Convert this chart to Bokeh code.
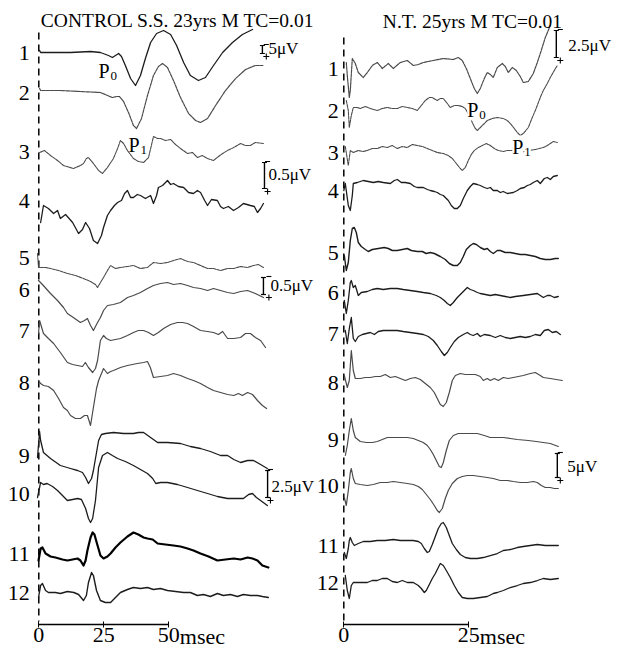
from bokeh.plotting import figure
from bokeh.models import (Range1d, LinearAxis, FixedTicker, Label, LabelSet,
                          ColumnDataSource)
from bokeh.layouts import row
from bokeh.embed import file_html
from bokeh.resources import INLINE
from bokeh.core.properties import value

SERIF = "Liberation Serif"

# ---------------- DATA: left panel (CONTROL S.S.), time in msec, amplitude (up +) ----------
L1_t = [0.3, 0.7, 4.5, 12.2, 19.9, 23.7, 26.8, 28.3, 29.5, 30.7, 31.8, 33.3, 35.3, 37.2, 39.1, 41.0, 43.0, 45.3, 48.0, 50.7, 53.0, 55.7, 58.3, 61.4, 64.1, 67.2, 70.7, 74.5, 78.3, 82.2]
L1_v = [2, 0, 0, 0, 1, 0, -3, -5, -3, -1, -4, -13, -26, -33, -23, -6, 10, 19, 22, 18, 7, -10, -23, -28, -25, -13, 0, 10, 18, 23]
L2_t = [0.3, 0.7, 8.3, 16.0, 23.7, 26.4, 28.3, 29.9, 31.0, 32.6, 34.5, 36.4, 37.6, 39.5, 41.8, 44.1, 46.0, 47.6, 49.5, 51.8, 54.5, 57.6, 60.3, 62.2, 64.9, 68.0, 71.8, 75.7, 79.5, 83.3, 86.4]
L2_v = [2, 0, 0, -1, -2, -5, -7, -6, -6, -11, -22, -35, -38, -28, -5, 15, 24, 27, 23, 10, -7, -23, -30, -32, -28, -15, 0, 12, 21, 25, 25]
L3_t = [0.3, 2.2, 4.5, 7.2, 9.5, 13.3, 16.0, 17.2, 18.3, 19.1, 21.0, 23.0, 24.5, 26.4, 28.7, 30.3, 31.4, 32.6, 34.1, 36.4, 38.3, 40.3, 42.2, 43.3, 44.1, 45.7, 46.8, 48.7, 50.7, 52.6, 54.5, 57.2, 59.1, 61.0, 62.9, 64.9, 67.2, 69.1, 70.7, 72.6, 75.0, 77.6, 79.5, 81.4, 83.3, 86.4]
L3_v = [0, 2, -3, -8, -13, -16, -13, -11, -6, -5, -11, -18, -21, -15, -6, 4, 12, 9, 2, -6, -9, -10, -5, 7, 16, 14, 14, 12, 13, 8, 4, -1, 0, -5, -3, -6, -8, -4, -1, 2, 5, 9, 7, 7, 10, 9]
L4_t = [0.7, 1.8, 3.7, 5.7, 7.2, 8.3, 10.3, 13.0, 15.3, 16.8, 18.0, 19.5, 21.0, 22.6, 24.1, 24.9, 26.4, 27.6, 29.1, 30.3, 31.8, 33.0, 34.1, 35.3, 36.4, 37.9, 39.1, 41.0, 43.0, 44.1, 45.3, 46.0, 47.6, 49.5, 50.7, 51.8, 53.7, 55.7, 57.6, 59.5, 61.0, 62.2, 63.8, 64.9, 66.4, 68.7, 69.9, 71.0, 72.9, 74.9, 76.8, 78.7, 81.4, 82.9, 84.1, 85.3, 86.4]
L4_v = [-29, -12, -15, -20, -17, -25, -21, -29, -40, -36, -29, -35, -47, -50, -42, -34, -22, -17, -12, -9, -7, 0, 3, -4, -4, -1, -2, -5, -2, -10, -2, 6, 8, 13, 9, 10, 7, 6, 1, 0, 3, 1, -7, -12, -6, -7, -13, -15, -13, -17, -14, -10, -12, -13, -19, -15, -10]
L5_t = [-0.5, -0.1, 2.6, 4.5, 7.6, 11.0, 14.1, 17.2, 19.9, 21.8, 22.6, 23.7, 24.9, 26.4, 27.6, 29.5, 31.4, 34.1, 36.4, 39.1, 41.8, 44.1, 46.8, 49.5, 51.8, 54.5, 57.2, 59.5, 62.2, 64.9, 67.2, 69.9, 72.6, 75.0, 77.6, 80.3, 82.6, 84.5, 86.4]
L5_v = [4, -10, -10, -11, -13, -16, -18, -21, -24, -27, -30, -25, -20, -13, -8, -11, -10, -9, -8, -11, -10, -5, -6, -5, -3, -1, -4, -5, -8, -11, -11, -13, -11, -11, -9, -10, -8, -7, -10]
L6_t = [-0.1, 1.4, 4.5, 7.2, 9.5, 11.0, 13.3, 16.0, 17.6, 18.7, 19.9, 21.0, 22.6, 23.7, 24.9, 26.4, 28.7, 31.4, 34.1, 36.4, 39.1, 41.8, 44.1, 46.8, 49.5, 51.8, 54.5, 57.2, 59.5, 62.2, 64.9, 67.2, 69.9, 72.6, 75.0, 77.6, 80.3, 83.3, 86.4]
L6_v = [9, 5, -4, -11, -18, -24, -28, -33, -31, -29, -36, -41, -33, -28, -21, -16, -15, -13, -8, -6, -3, 1, 4, 6, 7, 5, 6, 4, 2, 1, -1, 1, -1, -3, -4, -2, -1, -4, -8]
L7_t = [-0.1, 0.3, 1.8, 3.7, 5.7, 8.3, 11.0, 13.0, 14.9, 16.8, 17.9, 19.1, 20.7, 21.8, 22.6, 23.7, 24.9, 26.0, 27.6, 29.5, 31.4, 34.1, 36.4, 38.3, 40.3, 42.2, 44.1, 46.0, 48.0, 50.7, 53.3, 55.3, 57.2, 59.5, 62.2, 64.9, 67.2, 69.1, 70.7, 72.6, 75.0, 77.6, 79.5, 81.4, 83.3, 85.3, 87.2]
L7_v = [-3, 10, -3, -8, -13, -22, -32, -34, -35, -36, -32, -37, -42, -38, -30, -10, -5, -8, -10, -9, -8, -5, -2, 0, 0, -2, -5, -2, 2, 6, 8, 8, 7, 4, 0, -1, -2, -4, -1, -8, -8, -7, -3, -3, -7, -10, -17]
L8_t = [-0.1, 0.7, 1.8, 3.7, 5.7, 7.6, 9.5, 11.0, 12.2, 14.1, 16.0, 17.6, 18.7, 19.9, 21.0, 22.2, 23.0, 24.9, 26.4, 27.6, 28.7, 31.4, 34.1, 36.0, 37.9, 40.3, 41.8, 42.9, 44.1, 46.8, 49.5, 51.8, 54.5, 57.2, 59.5, 62.2, 64.9, 67.2, 69.9, 72.6, 75.0, 76.8, 78.3, 80.3, 82.2, 84.1, 86.0, 87.6]
L8_v = [2, -1, -3, -4, -8, -16, -25, -28, -33, -36, -36, -33, -33, -43, -25, -6, 2, 14, 9, 11, 12, 15, 17, 18, 19, 20, 21, 15, 5, 6, 7, 9, 7, 4, 2, -1, -5, -8, -10, -12, -13, -11, -13, -10, -12, -18, -23, -26]
L9_t = [-0.5, 0.3, 0.7, 1.8, 4.5, 8.3, 12.2, 14.9, 16.8, 18.0, 19.1, 20.3, 21.0, 22.2, 23.0, 24.1, 25.6, 28.7, 32.6, 36.4, 38.3, 40.3, 43.0, 45.7, 49.5, 54.5, 58.3, 62.2, 66.0, 69.9, 72.6, 75.0, 77.6, 80.3, 82.6, 85.3, 87.9]
L9_v = [-2, 24, 15, 3, -3, -10, -13, -15, -17, -22, -28, -23, -15, 3, 15, 21, 22, 23, 22, 22, 23, 23, 18, 13, 13, 12, 9, 7, 4, 0, 0, -4, -7, -5, -5, -9, -13]
L10_t = [-0.5, 0.7, 1.8, 3.2, 5.3, 7.2, 9.1, 11.0, 13.0, 14.9, 16.4, 18.0, 19.1, 19.9, 20.7, 21.8, 23.0, 24.5, 26.4, 28.3, 30.3, 33.3, 36.4, 39.1, 41.8, 43.8, 45.0, 46.8, 49.5, 53.3, 57.2, 61.0, 64.9, 68.7, 72.6, 76.4, 78.7, 80.7, 82.2, 83.7, 85.3, 87.9]
L10_v = [-4, 11, 9, 10, 7, 3, -2, -7, -6, -5, -6, -15, -25, -29, -25, -7, 26, 38, 41, 38, 35, 32, 28, 24, 20, 15, 10, 11, 11, 9, 6, 3, 0, -3, -5, -5, -5, -1, 0, -4, -7, -12]
L11_t = [-0.1, 0.7, 1.4, 2.6, 4.5, 6.4, 9.1, 11.0, 13.0, 14.9, 16.0, 17.2, 18.0, 18.7, 19.9, 20.7, 21.4, 22.6, 23.7, 24.9, 26.4, 27.6, 29.5, 31.4, 34.1, 36.4, 38.3, 40.3, 41.8, 43.8, 45.7, 48.7, 51.8, 54.5, 57.2, 59.5, 62.2, 65.3, 68.7, 71.8, 75.0, 77.6, 80.3, 82.2, 84.1, 86.0, 88.3]
L11_v = [-7, 5, 6, 0, -3, -4, -6, -7, -6, -5, -7, -12, -7, 3, 16, 21, 19, 8, -2, -5, -3, 0, 6, 11, 17, 21, 19, 16, 15, 14, 10, 9, 8, 7, 5, 3, 0, -3, -7, -6, -5, -6, -4, -5, -7, -12, -14]
L12_t = [-0.1, 0.7, 1.4, 2.6, 3.7, 6.4, 8.3, 11.0, 13.5, 15.3, 17.2, 18.3, 19.1, 20.3, 21.0, 22.2, 23.7, 25.6, 27.6, 29.5, 31.4, 34.1, 36.4, 39.1, 41.8, 44.1, 46.8, 49.5, 52.6, 55.7, 58.3, 61.0, 63.3, 66.0, 68.7, 71.0, 73.7, 76.4, 78.7, 81.4, 84.1, 86.0, 88.3]
L12_v = [-5, 7, 9, 2, 0, 0, -1, 1, 0, -2, -8, -3, 10, 20, 17, 2, -8, -10, -10, -5, 0, 3, 5, 4, 5, 3, 4, 2, 1, 0, 0, -3, -2, -4, -1, -3, -2, -4, -2, -3, -3, -4, -5]

# ---------------- DATA: right panel (N.T.) ----------------
R1_t = [0.5, 0.7, 1.1, 1.3, 1.7, 2.3, 2.9, 3.9, 4.7, 5.7, 6.7, 7.7, 8.9, 9.9, 11.3, 12.7, 13.9, 14.9, 15.9, 17.9, 19.9, 21.9, 22.9, 23.7, 24.5, 25.3, 26.1, 26.7, 27.3, 28.1, 28.7, 29.3, 29.9, 30.7, 31.7, 32.3, 32.9, 33.7, 34.5, 35.3, 35.9, 36.9, 37.9, 38.7, 39.3, 40.3, 41.3]
R1_v = [7, -6, -28, -21, 11, 6, -3, -8, -3, 4, 7, 1, 6, 1, 7, 9, 4, 5, 7, 9, 11, 10, 12, 9, 1, -9, -19, -24, -19, -9, -3, -5, -8, 2, 6, 3, -3, 2, -1, -7, -13, -12, -4, 7, 16, 32, 44]
R2_t = [0.5, 0.9, 1.1, 1.5, 1.9, 2.7, 3.3, 4.3, 5.3, 6.7, 7.7, 8.7, 9.7, 10.7, 11.7, 12.7, 13.7, 14.7, 15.5, 16.3, 17.1, 17.7, 18.7, 19.3, 19.9, 20.7, 21.3, 22.1, 22.9, 23.7, 24.3, 25.1, 25.7, 26.3, 26.7, 27.3, 27.9, 28.7, 29.7, 30.7, 31.9, 32.7, 33.3, 34.1, 34.7, 35.3, 35.9, 36.9, 37.7, 38.3, 39.3, 39.9, 40.7, 41.3, 42.1, 42.7]
R2_v = [10, 0, -17, -5, 3, 3, 2, 4, 2, 0, 2, 3, 2, 2, 4, 3, 2, 0, 5, 10, 13, 13, 10, 12, 12, 7, 3, 5, 5, 4, 2, -5, -12, -18, -20, -17, -14, -10, -8, -7, -8, -10, -13, -18, -22, -25, -23, -17, -7, 0, 13, 20, 27, 33, 40, 45]
R3_t = [0.3, 0.9, 1.3, 1.9, 2.9, 3.9, 4.7, 5.7, 6.7, 7.7, 8.7, 9.7, 10.7, 11.7, 12.7, 13.7, 14.7, 15.7, 16.7, 17.7, 18.7, 19.9, 20.9, 21.7, 22.5, 23.3, 23.7, 24.3, 24.9, 25.5, 26.1, 26.9, 27.7, 28.5, 29.3, 30.1, 30.9, 31.9, 32.7, 33.3, 34.3, 35.3, 36.9, 38.3, 39.9, 40.7, 41.3, 41.9, 42.7]
R3_v = [6, -13, 2, 0, 2, 1, 2, 4, 4, 6, 5, 7, 4, 6, 5, 8, 7, 6, 4, 2, 0, -1, -3, -6, -11, -16, -18, -15, -8, -2, 2, 5, 7, 9, 7, 4, 2, 1, 2, 2, 2, 0, 2, 3, 5, 7, 9, 11, 10]
R4_t = [0.0, 0.3, 0.9, 1.3, 1.7, 1.9, 2.7, 3.9, 4.9, 5.9, 6.9, 7.9, 9.3, 10.1, 10.7, 11.5, 12.3, 13.3, 14.1, 14.7, 15.9, 16.7, 17.3, 18.1, 18.7, 19.3, 19.9, 20.5, 20.9, 21.5, 22.1, 22.7, 23.3, 23.9, 24.7, 25.3, 25.9, 26.7, 27.3, 28.1, 28.7, 29.3, 29.9, 30.7, 31.3, 31.9, 32.7, 33.9, 34.7, 35.3, 36.1, 36.7, 37.3, 37.9, 38.7, 39.3, 40.1, 40.7, 41.3, 41.9, 42.7]
R4_v = [0, 7, -15, -20, -5, 7, 8, 10, 9, 8, 9, 8, 7, 10, 11, 8, 8, 7, 4, 3, 3, 1, 0, -1, -2, -4, -5, -8, -10, -15, -18, -18, -15, -8, 0, 4, 7, 6, 5, 3, 2, 3, 0, 0, -2, -1, -3, -2, 0, 2, 3, 5, 6, 8, 10, 7, 12, 13, 11, 14, 15]
R5_t = [0.1, 0.5, 0.9, 1.3, 1.7, 2.1, 2.5, 2.9, 3.5, 4.3, 4.9, 5.7, 6.9, 8.1, 8.9, 9.7, 10.7, 11.7, 12.7, 13.5, 14.7, 15.7, 16.5, 17.3, 18.1, 19.3, 20.3, 21.1, 21.9, 22.7, 23.3, 23.9, 24.5, 25.3, 25.9, 26.5, 27.3, 28.1, 28.7, 29.3, 29.9, 30.7, 31.3, 32.3, 33.3, 34.3, 35.3, 36.3, 37.3, 38.3, 39.3, 40.3, 41.3, 42.3, 42.9]
R5_v = [-3, -18, -10, 12, 24, 25, 20, 10, 6, 3, 1, 3, 4, 5, 4, 2, 2, 3, 4, 2, 1, 1, -1, 0, -1, -4, -7, -11, -13, -13, -10, -4, 3, 7, 9, 8, 5, 3, 4, 1, -1, 2, 2, 0, 0, -1, -2, -2, -3, -4, -6, -7, -7, -6, -6]
R6_t = [0.1, 0.5, 0.9, 1.3, 1.5, 1.9, 2.3, 2.9, 3.5, 4.7, 5.7, 6.7, 7.9, 9.3, 10.7, 11.9, 13.3, 14.7, 15.9, 17.3, 18.5, 19.3, 20.1, 20.7, 21.3, 21.9, 22.7, 23.7, 24.7, 25.3, 25.9, 26.7, 27.3, 28.3, 29.3, 30.3, 31.3, 32.3, 33.3, 34.3, 35.9, 37.3, 38.7, 39.3, 39.9, 40.7, 41.3, 42.1, 42.9]
R6_v = [-8, -21, -8, 10, 12, 5, 7, -3, 0, 1, 3, 4, 3, 4, 4, 3, 2, 1, 0, -1, -3, -5, -8, -11, -13, -10, -5, 0, 5, 3, 2, 0, -1, -2, -3, -2, -3, -4, -5, -4, -3, -2, -1, -3, -5, -3, -3, -5, -4]
R7_t = [0.3, 0.7, 1.1, 1.5, 1.9, 2.3, 2.9, 3.7, 4.5, 5.3, 6.1, 6.9, 7.9, 9.3, 10.7, 11.9, 13.3, 14.7, 15.9, 16.9, 17.9, 18.7, 19.5, 20.1, 20.7, 21.3, 22.1, 22.9, 23.9, 24.7, 25.3, 25.9, 26.7, 27.3, 28.1, 29.3, 30.3, 31.3, 32.3, 33.3, 34.3, 35.3, 36.3, 37.3, 38.3, 39.3, 40.1, 40.9, 41.7, 42.5, 43.3]
R7_v = [3, -10, 5, 16, -5, -8, -3, -1, 0, 1, -1, 2, 3, 3, 3, 2, 1, 0, -1, -3, -7, -12, -18, -22, -19, -14, -8, -4, -1, 1, -1, -2, 0, -3, -1, -2, -4, -2, -4, -5, -4, -3, -4, -3, -1, -2, 3, 4, 1, 2, -1]
R8_t = [0.1, 0.7, 1.1, 1.5, 1.9, 2.3, 3.3, 4.3, 5.3, 6.3, 7.3, 8.3, 9.3, 10.3, 11.3, 12.3, 13.3, 14.3, 15.3, 16.3, 17.3, 18.1, 18.7, 19.3, 19.9, 20.5, 21.1, 21.7, 22.3, 23.3, 24.3, 25.3, 26.3, 27.3, 27.9, 28.7, 29.3, 30.1, 30.9, 31.9, 32.9, 33.9, 34.9, 35.9, 37.3, 38.3, 39.3, 39.9, 41.3, 42.5, 43.7]
R8_v = [7, -5, 2, 32, 12, 4, 4, 5, 5, 6, 6, 8, 5, 6, 4, 2, 4, 5, 3, -1, -5, -10, -16, -22, -24, -20, -10, 2, 7, 9, 8, 8, 8, 6, 2, 4, 2, 4, 2, 5, 4, 5, 6, 7, 9, 10, 7, 5, 4, 3, 2]
R9_t = [0.3, 0.7, 1.1, 1.5, 1.9, 2.3, 3.3, 4.5, 5.7, 6.7, 7.7, 8.7, 9.9, 11.3, 12.7, 13.9, 14.9, 15.9, 16.7, 17.3, 17.9, 18.5, 19.1, 19.5, 19.9, 20.5, 21.1, 21.9, 22.9, 23.9, 25.3, 26.7, 28.1, 29.3, 30.7, 31.9, 33.3, 34.7, 36.9, 38.5, 39.9, 41.3, 42.9]
R9_v = [-16, -6, 9, 21, 9, 2, -2, -3, -3, -2, 0, 2, 2, 2, 2, 1, -1, -3, -6, -10, -15, -21, -27, -28, -23, -11, -1, 4, 6, 6, 6, 6, 4, 2, 2, 2, 1, 0, -1, -2, -3, -4, -7]
R10_t = [0.1, 0.5, 0.9, 1.3, 1.5, 1.9, 2.3, 3.3, 4.7, 5.9, 7.3, 8.7, 9.9, 11.3, 12.7, 13.9, 14.9, 15.7, 16.5, 17.3, 18.1, 18.7, 19.1, 19.7, 20.3, 20.9, 21.7, 22.7, 23.7, 24.7, 25.9, 27.3, 28.7, 29.9, 31.3, 32.7, 33.9, 35.3, 36.7, 37.9, 38.7, 39.5, 40.3, 41.3, 42.1, 42.9]
R10_v = [-12, -20, -5, 13, 17, 7, 2, 1, 0, 1, 3, 3, 4, 3, 2, 1, -1, -4, -9, -14, -20, -25, -27, -23, -13, -5, 2, 7, 9, 10, 10, 9, 8, 7, 5, 5, 4, 3, 3, 4, 3, 0, -2, -2, -3, -3]
R11_t = [0.1, 0.5, 0.9, 1.1, 1.3, 1.7, 2.1, 2.9, 3.9, 5.3, 6.7, 8.3, 9.9, 11.3, 12.7, 13.9, 14.9, 15.5, 16.1, 16.7, 17.1, 17.7, 18.3, 18.9, 19.5, 19.9, 20.5, 21.1, 21.7, 22.5, 23.3, 24.3, 25.3, 26.7, 27.9, 29.3, 30.7, 31.9, 33.3, 34.7, 35.9, 37.3, 38.7, 40.3, 41.7, 42.9]
R11_v = [-7, -13, -3, 5, 8, 3, 0, 2, 4, 4, 5, 5, 6, 5, 5, 5, 4, 2, -3, -7, -6, 1, 9, 17, 22, 23, 18, 10, 2, -4, -9, -12, -13, -13, -12, -10, -8, -5, -4, -2, -1, 0, 1, 0, 0, 0]
R12_t = [0.3, 0.7, 1.1, 1.5, 1.9, 2.9, 3.9, 4.7, 5.7, 6.7, 7.7, 8.7, 9.7, 10.7, 11.7, 12.7, 13.9, 14.9, 15.5, 16.1, 16.5, 17.1, 17.7, 18.3, 18.9, 19.3, 19.9, 20.5, 21.3, 22.1, 22.9, 23.7, 24.7, 25.9, 27.3, 28.7, 29.9, 30.7, 31.9, 33.3, 34.7, 35.9, 37.3, 38.7, 39.9, 41.3, 42.9]
R12_v = [7, -8, -16, -3, 0, 0, 0, 0, 2, 2, 4, 4, 1, 0, 2, 0, 0, -3, -6, -10, -8, -2, 4, 9, 15, 19, 17, 12, 5, -3, -10, -15, -16, -16, -15, -14, -11, -10, -8, -5, -3, -1, 0, 2, 4, 3, 4]

TRACE_NAMES = ["1", "2", "3", "4", "5", "6", "7", "8", "9", "10", "11", "12"]
LEFT_TICKS = [0, 25, 50]
RIGHT_TICKS = [0, 25]
LEFT_TITLE = "CONTROL S.S. 23yrs M TC=0.01"
RIGHT_TITLE = "N.T. 25yrs M TC=0.01"

LEFT_T = [L1_t, L2_t, L3_t, L4_t, L5_t, L6_t, L7_t, L8_t, L9_t, L10_t, L11_t, L12_t]
LEFT_V = [L1_v, L2_v, L3_v, L4_v, L5_v, L6_v, L7_v, L8_v, L9_v, L10_v, L11_v, L12_v]
RIGHT_T = [R1_t, R2_t, R3_t, R4_t, R5_t, R6_t, R7_t, R8_t, R9_t, R10_t, R11_t, R12_t]
RIGHT_V = [R1_v, R2_v, R3_v, R4_v, R5_v, R6_v, R7_v, R8_v, R9_v, R10_v, R11_v, R12_v]

# ---------------- LAYOUT (vertical offsets in screen px from page top) ----------------
LEFT_OFF = [52, 90, 152, 193, 257, 289, 330, 382, 455, 493, 553, 592]
LEFT_LAB = [52, 92, 151, 200, 257, 289, 330, 382, 455, 493, 553, 592]
RIGHT_OFF = [69, 110, 152, 190, 252, 292, 333, 382, 439, 485, 545, 582]
RIGHT_LAB = [68, 110, 152, 190, 252, 292, 333, 382, 439, 485, 545, 582]

DARK = "#1c1c1c"
LIGHT = "#4a4a4a"
LEFT_STYLE = [(DARK, 1.3, "solid"), (LIGHT, 1.2, "3 1"), (LIGHT, 1.1, "3 1"), (DARK, 1.3, "solid"),
              (LIGHT, 1.1, "3 1"), (LIGHT, 1.2, "solid"), (LIGHT, 1.2, "solid"), (LIGHT, 1.2, "solid"),
              (DARK, 1.3, "solid"), (DARK, 1.3, "solid"), ("#000000", 2.2, "solid"), (DARK, 1.4, "solid")]
RIGHT_STYLE = [(LIGHT, 1.2, "3 1"), (LIGHT, 1.1, "3 1"), (LIGHT, 1.1, "3 1"), (DARK, 1.3, "solid"),
               (DARK, 1.4, "solid"), (DARK, 1.3, "solid"), (DARK, 1.3, "solid"), (LIGHT, 1.2, "solid"),
               (LIGHT, 1.2, "solid"), (LIGHT, 1.2, "solid"), (DARK, 1.3, "solid"), (DARK, 1.3, "solid")]

H = 650
AXIS_Y = 624
TICK_FONT = "22px"


def make_panel(width, xr, ticks, bound_hi):
    p = figure(width=width, height=H, x_range=xr, y_range=Range1d(-H, 0),
               x_axis_location=None, y_axis_location=None,
               toolbar_location=None, output_backend="svg", min_border=0,
               outline_line_color=None, background_fill_color="white",
               border_fill_color="white")
    for g in p.grid:
        g.visible = False
    ax = LinearAxis(bounds=(0, bound_hi), ticker=FixedTicker(ticks=ticks),
                    fixed_location=-AXIS_Y,
                    major_label_overrides={t: str(t) for t in ticks},
                    minor_tick_line_color=None, major_tick_in=3, major_tick_out=3,
                    major_label_standoff=0, axis_line_width=1.3, axis_line_color="black",
                    major_tick_line_color="black", major_label_text_font=SERIF,
                    major_label_text_font_size=TICK_FONT, major_label_text_color="black")
    p.add_layout(ax, "below")
    p.add_layout(Label(x=bound_hi, y=-(AXIS_Y - 1), x_offset=11,
                       text="msec", text_align="left", text_baseline="top",
                       text_font=SERIF, text_font_size=TICK_FONT, text_color="black"))
    return p


def add_traces(p, ts, vs, offs, styles):
    for t, v, off, (c, w, d) in zip(ts, vs, offs, styles):
        p.line(t, [a - off for a in v], line_color=c, line_width=w, line_dash=d,
               line_join="round", line_cap="round")


def add_numbers(p, labs, xoff):
    src = ColumnDataSource(dict(x=[0] * len(labs), y=[-y for y in labs], text=TRACE_NAMES))
    p.add_layout(LabelSet(x="x", y="y", text="text", source=src, x_offset=xoff,
                          text_align="right", text_baseline="middle",
                          text_font=value(SERIF), text_font_size="22px", text_color="black"))


def add_scale(p, t_bar, y0, y1, t_pm, t_txt, y_txt, text, size="17px"):
    p.segment(x0=[t_bar], y0=[-y0], x1=[t_bar], y1=[-y1], line_color="black", line_width=1.4)
    p.scatter(x=[t_bar, t_bar], y=[-y0, -y1], marker="dash", size=5, line_color="black", line_width=1.2)
    p.scatter(x=[t_pm], y=[-(y0 - 1)], marker="dash", size=5, line_color="black", line_width=1.1)
    p.scatter(x=[t_pm], y=[-(y1 + 3)], marker="cross", size=6, line_color="black", line_width=1.1)
    p.add_layout(Label(x=t_txt, y=-y_txt, text=text, text_align="left", text_baseline="middle",
                       text_font=SERIF, text_font_size=size, text_color="black"))


def add_p(p, t, y, sub, bg):
    p.add_layout(Label(x=t, y=-y, text="P", text_align="left", text_baseline="middle",
                       text_font=SERIF, text_font_size="20px", text_color="black",
                       background_fill_color=bg))
    p.add_layout(Label(x=t, y=-(y + 5), x_offset=12, text=sub, text_align="left",
                       text_baseline="middle", text_font=SERIF, text_font_size="13px",
                       text_color="black", background_fill_color=bg))


# ---------------- LEFT PANEL ----------------
pl = make_panel(316, Range1d(-14.731, 106.81), LEFT_TICKS, 50)
pl.segment(x0=[0], y0=[-32], x1=[0], y1=[-(AXIS_Y - 3)], line_color="black",
           line_width=1.5, line_dash="7 5")
add_traces(pl, LEFT_T, LEFT_V, LEFT_OFF, LEFT_STYLE)
add_numbers(pl, LEFT_LAB, -9)
pl.add_layout(Label(x=0, y=-20, x_offset=2, text=LEFT_TITLE, text_align="left",
                    text_baseline="middle", text_font=SERIF, text_font_size="19.5px",
                    text_color="black"))
add_scale(pl, 86.0, 45, 53, 87.5, 88.3, 48, "5μV")
add_scale(pl, 86.8, 162, 188, 88.0, 88.3, 174, "0.5μV")
add_scale(pl, 86.4, 277, 294, 88.5, 89.1, 285, "0.5μV")
add_scale(pl, 88.0, 470, 497, 89.1, 89.5, 486, "2.5μV")
add_p(pl, 23.0, 70, "0", None)
add_p(pl, 34.5, 144, "1", None)

# ---------------- RIGHT PANEL ----------------
pr = make_panel(302, Range1d(-5.46, 54.94), RIGHT_TICKS, 25)
pr.segment(x0=[0], y0=[-37], x1=[0], y1=[-(AXIS_Y - 3)], line_color="black",
           line_width=1.5, line_dash="7 5")
add_traces(pr, RIGHT_T, RIGHT_V, RIGHT_OFF, RIGHT_STYLE)
add_numbers(pr, RIGHT_LAB, -5)
pr.add_layout(Label(x=0, y=-21, x_offset=39, text=RIGHT_TITLE, text_align="left",
                    text_baseline="middle", text_font=SERIF, text_font_size="19.5px",
                    text_color="black"))
add_scale(pr, 42.5, 30, 57, 43.3, 44.9, 45, "2.5μV")
add_scale(pr, 42.7, 453, 477, 43.3, 44.7, 466, "5μV")
add_p(pr, 24.7, 109, "0", "white")
add_p(pr, 33.7, 146, "1", "white")

layout = row(pl, pr, spacing=0)
open("out.html", "w").write(file_html(layout, INLINE))
